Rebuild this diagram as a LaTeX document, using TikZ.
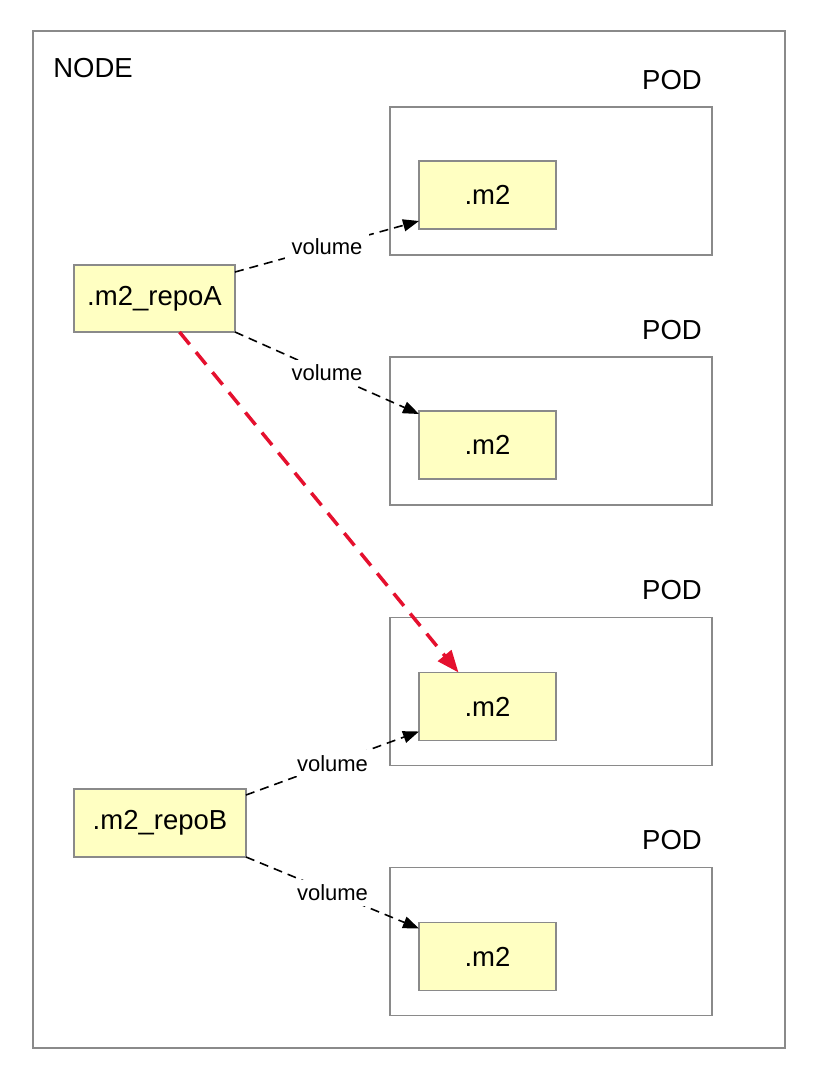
\documentclass[tikz,border=0pt]{standalone}
\usepackage{fontspec}
\setmainfont{Liberation Sans}
\usetikzlibrary{arrows.meta}
\definecolor{boxfill}{HTML}{FFFFC2}
\definecolor{boxline}{HTML}{8A8A8A}
\definecolor{redline}{HTML}{E5102E}
\begin{document}
\begin{tikzpicture}[x=1pt,y=-1pt,
  frame/.style={draw=boxline,line width=1.5pt,inner sep=0pt,outer sep=0pt},
  yellowbox/.style={draw=boxline,fill=boxfill,line width=1.3pt,inner sep=0pt,outer sep=0pt,font=\fontsize{27.5}{33}\selectfont},
  title/.style={font=\fontsize{27.5}{33}\selectfont,inner sep=0pt},
  vol/.style={-{Triangle[length=16pt,width=12pt]},line width=1.6pt,dash pattern=on 9pt off 6pt},
  vlabel/.style={fill=white,font=\fontsize{22}{26}\selectfont,inner xsep=7pt,inner ysep=5pt},
  reddash/.style={-{Triangle[length=22pt,width=17pt]},draw=redline,line width=3.5pt,dash pattern=on 16pt off 10pt}]
\useasboundingbox (0,0) rectangle (815,1072);
\node[frame,minimum width=752pt,minimum height=1017pt] (nodebox) at (409,539.5) {};
\node[title] (nodelabel) at (93,68) {NODE};
% pods
\node[frame,minimum width=322pt,minimum height=148pt] (poda) at (551,181) {};
\node[frame,minimum width=322pt,minimum height=148pt] (podb) at (551,431) {};
\node[frame,minimum width=322pt,minimum height=148pt] (podc) at (551,691.5) {};
\node[frame,minimum width=322pt,minimum height=148pt] (podd) at (551,941.5) {};
\node[title] (pla) at (672,80) {POD};
\node[title] (plb) at (672,330) {POD};
\node[title] (plc) at (672,590) {POD};
\node[title] (pld) at (672,840) {POD};
% m2 boxes
\node[yellowbox,minimum width=137pt,minimum height=68pt] (m2a) at (487.5,195) {.m2};
\node[yellowbox,minimum width=137pt,minimum height=68pt] (m2b) at (487.5,445) {.m2};
\node[yellowbox,minimum width=137pt,minimum height=68pt] (m2c) at (487.5,706.5) {.m2};
\node[yellowbox,minimum width=137pt,minimum height=68pt] (m2d) at (487.5,956.5) {.m2};
% repos
\node[yellowbox,minimum width=161pt,minimum height=67pt] (repoA) at (154.5,298.5) {.m2\_repoA};
\node[yellowbox,minimum width=172pt,minimum height=68pt] (repoB) at (160,823) {.m2\_repoB};
% connectors
\draw[vol] ([yshift=-7pt]repoA.north east) -- node[vlabel]{volume} ([yshift=8pt]m2a.south west);
\draw[vol] (repoA.south east) -- node[vlabel]{volume} ([yshift=-3pt]m2b.north west);
\draw[vol] ([yshift=-6pt]repoB.north east) -- node[vlabel]{volume} ([yshift=9pt]m2c.south west);
\draw[vol] (repoB.south east) -- node[vlabel]{volume} ([yshift=-6pt]m2d.north west);
\draw[reddash] ([xshift=25pt]repoA.south) -- ([xshift=-29pt]m2c.north);
\end{tikzpicture}
\end{document}
